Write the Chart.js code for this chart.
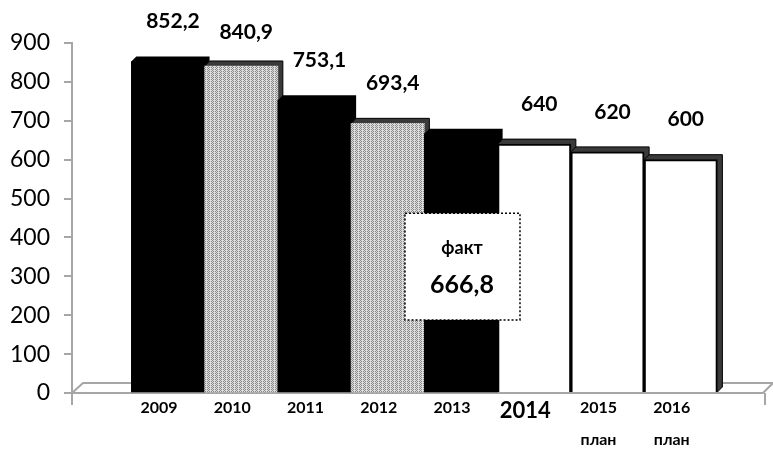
<!DOCTYPE html>
<html>
<head>
<meta charset="utf-8">
<script src="https://cdn.jsdelivr.net/npm/chart.js@4"></script>
<style>
  html, body { margin: 0; padding: 0; background: #fff; }
  #wrap { width: 773px; height: 458px; }
</style>
</head>
<body>
<div id="wrap"><canvas id="chart" width="773" height="458"></canvas></div>
<script>
// DATA
const years = ["2009", "2010", "2011", "2012", "2013", "2014", "2015", "2016"];
const subLabels = ["", "", "", "", "", "", "план", "план"];
const values = [852.2, 840.9, 753.1, 693.4, 666.8, 640, 620, 600];
const kinds = ["black", "gray", "black", "gray", "black", "white", "white", "white"];
const yTicks = [0, 100, 200, 300, 400, 500, 600, 700, 800, 900];
const noteIndex = 4;
const noteTitle = "факт";

const FONT = "'Lato', 'Liberation Sans', sans-serif";

// grey dotted / zigzag fill like the office pattern
function makePattern() {
  const c = document.createElement("canvas");
  c.width = 4;
  c.height = 4;
  const g = c.getContext("2d");
  g.fillStyle = "#dcdcdc";
  g.fillRect(0, 0, 4, 4);
  g.fillStyle = "#8a8a8a";
  [[0, 0], [1, 1], [2, 0], [3, 1], [0, 2], [2, 2], [1, 3], [3, 3]].forEach(([x, y], i) => {
    if (i % 3 !== 2) g.fillRect(x, y, 1, 1);
  });
  return g.createPattern(c, "repeat");
}
const grayFill = makePattern();

function fillFor(k) {
  if (k === "black") return "#000";
  if (k === "gray") return grayFill;
  return "#fff";
}
function depthFor(k) {
  return k === "black" ? "#000" : "#3a3a3a";
}

function fmt(v) {
  return String(v).replace(".", ",");
}

const D = 5; // 3d depth

const depthPlugin = {
  id: "depth",
  beforeDatasetsDraw(chart) {
    const ctx = chart.ctx;
    const a = chart.chartArea;
    // floor
    ctx.save();
    ctx.strokeStyle = "#a6a6a6";
    ctx.lineWidth = 2;
    ctx.beginPath();
    ctx.moveTo(a.left - 7, a.bottom);
    ctx.lineTo(a.right - 2, a.bottom);
    ctx.lineTo(a.right + 8, a.bottom - 10);
    ctx.moveTo(a.left, a.bottom);
    ctx.lineTo(a.left + 11, a.bottom - 10);
    ctx.lineTo(chart.width, a.bottom - 10);
    ctx.moveTo(a.left, a.bottom);
    ctx.lineTo(a.left, a.bottom + 12);
    ctx.moveTo(a.right, a.bottom);
    ctx.lineTo(a.right, a.bottom + 12);
    ctx.stroke();
    ctx.restore();

    const meta = chart.getDatasetMeta(0);
    meta.data.forEach((bar, i) => {
      const p = bar.getProps(["x", "y", "base", "width"], true);
      const l = p.x - p.width / 2;
      const r = p.x + p.width / 2;
      ctx.save();
      ctx.fillStyle = depthFor(kinds[i]);
      ctx.beginPath();
      ctx.moveTo(l, p.y);
      ctx.lineTo(l + D, p.y - D);
      ctx.lineTo(r + D, p.y - D);
      ctx.lineTo(r + D, p.base - D);
      ctx.lineTo(r, p.base);
      ctx.closePath();
      ctx.fill();
      if (kinds[i] !== "black") {
        ctx.strokeStyle = "#000";
        ctx.lineWidth = 1;
        ctx.stroke();
      }
      ctx.restore();
    });
  },
  afterDatasetsDraw(chart) {
    const ctx = chart.ctx;
    const meta = chart.getDatasetMeta(0);
    const yScale = chart.scales.y;
    ctx.save();
    ctx.fillStyle = "#000";
    ctx.textAlign = "center";
    ctx.textBaseline = "middle";
    ctx.font = "bold 21px " + FONT;
    meta.data.forEach((bar, i) => {
      if (i === noteIndex) return;
      const lift = i === 1 ? 34 : 40;
      ctx.fillText(fmt(values[i]), bar.x + 5, bar.y - lift);
    });

    // note box over the 2013 bar
    const nb = meta.data[noteIndex];
    const top = yScale.getPixelForValue(462);
    const bottom = yScale.getPixelForValue(188);
    const left = nb.x - 56;
    const right = nb.x + 59;
    ctx.fillStyle = "#fff";
    ctx.fillRect(left, top, right - left, bottom - top);
    ctx.setLineDash([2, 2]);
    ctx.strokeStyle = "#000";
    ctx.lineWidth = 1.5;
    ctx.strokeRect(left, top, right - left, bottom - top);
    ctx.setLineDash([]);
    ctx.fillStyle = "#000";
    ctx.font = "bold 18px " + FONT;
    ctx.fillText(noteTitle, nb.x + 1, top + 35);
    ctx.font = "bold 25px " + FONT;
    ctx.fillText(fmt(values[noteIndex]), nb.x + 1, top + 72);
    ctx.restore();
  }
};

new Chart(document.getElementById("chart").getContext("2d"), {
  type: "bar",
  data: {
    datasets: [
      {
        data: values.map((v, i) => ({ x: i, y: v })),
        backgroundColor: kinds.map(fillFor),
        borderColor: kinds.map(k => (k === "white" ? "#000" : "rgba(0,0,0,0)")),
        borderWidth: kinds.map(k => (k === "white" ? 2 : 0)),
        borderSkipped: "bottom",
        barPercentage: 1,
        categoryPercentage: 1,
      },
    ],
  },
  options: {
    responsive: false,
    animation: false,
    layout: { padding: { top: 43, right: 8, left: 0, bottom: 0 } },
    plugins: {
      legend: { display: false },
      tooltip: { enabled: false },
    },
    scales: {
      x: {
        type: "linear",
        offset: false,
        min: -1.31,
        max: 8.15,
        afterBuildTicks: scale => {
          scale.ticks = years.map((_, i) => ({ value: i }));
        },
        afterFit: scale => {
          scale.height = 65;
        },
        grid: { display: false, drawTicks: false },
        border: { display: false },
        ticks: {
          padding: 7,
          labelOffset: -9,
          maxRotation: 0,
          autoSkip: false,
          color: "#000",
          font: ctx => ({
            family: FONT,
            weight: "bold",
            size: ctx.index === 5 ? 22 : 16,
            lineHeight: 1,
          }),
          callback: v => (subLabels[v] ? [years[v], "", subLabels[v]] : years[v]),
        },
      },
      y: {
        min: 0,
        max: 900,
        afterBuildTicks: scale => {
          scale.ticks = yTicks.map(v => ({ value: v }));
        },
        afterFit: scale => {
          scale.width = 72;
        },
        grid: {
          drawOnChartArea: false,
          color: "#a6a6a6",
          lineWidth: 2,
          tickLength: 8,
        },
        border: { color: "#a6a6a6", width: 2 },
        ticks: {
          color: "#000",
          padding: 14,
          font: { family: FONT, size: 23 },
        },
      },
    },
  },
  plugins: [depthPlugin],
});
</script>
</body>
</html>
